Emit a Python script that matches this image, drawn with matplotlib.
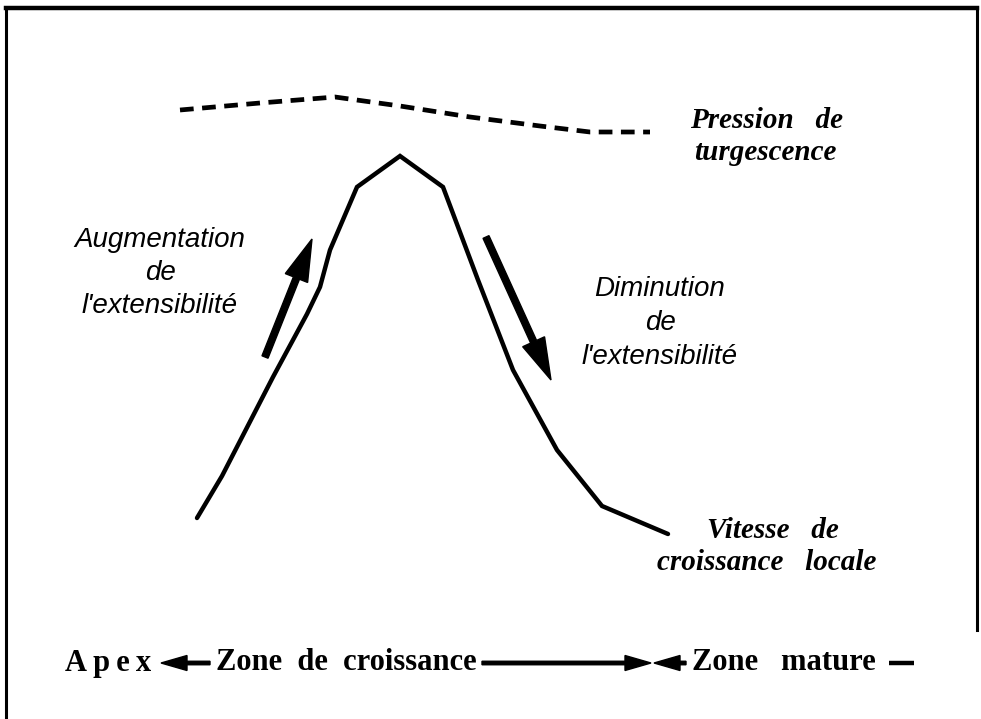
import matplotlib
matplotlib.use("Agg")
import matplotlib.pyplot as plt
from matplotlib.lines import Line2D

# ---- data (horizontal position along the root, value in image units; y grows downward) ----
growth_pos = [197, 222, 273, 307, 320, 330, 357, 400, 443, 478, 513, 557, 602, 668]
growth_val = [518, 476, 377, 314, 287, 250, 187, 156, 187, 280, 370, 450, 506, 534]

pressure_pos = [180, 260, 335, 400, 470, 540, 590, 650]
pressure_val = [110, 103, 97, 106, 117, 126, 132, 132]

label_aug = "Augmentation\nde\nl'extensibilité"
label_dim = "Diminution\nde\nl'extensibilité"
label_press = ["Pression   de", "turgescence"]
label_vit = ["Vitesse   de", "croissance   locale"]
zone_labels = ["A\u2009p\u2009e\u2009x", "Zone  de  croissance", "Zone   mature"]

W, H = 981, 719
fig = plt.figure(figsize=(W / 100, H / 100), dpi=100)
ax = fig.add_axes([0, 0, 1, 1])
ax.set_xlim(0, W)
ax.set_ylim(H, 0)
ax.axis("off")

# frame (left, top, right)
fig.add_artist(Line2D([6 / W, 6 / W], [0, 1 - 8 / H], transform=fig.transFigure, color="k", lw=2.2))
fig.add_artist(Line2D([6 / W, 977 / W], [1 - 8 / H, 1 - 8 / H], transform=fig.transFigure, color="k", lw=3.2))
fig.add_artist(Line2D([977 / W, 977 / W], [1 - 8 / H, 1 - 630 / H], transform=fig.transFigure, color="k", lw=2.2))

# growth curve
ax.plot(growth_pos, growth_val, color="k", lw=3.2, solid_joinstyle="miter", solid_capstyle="round")

# turgor pressure dashed line
ln, = ax.plot(pressure_pos, pressure_val, color="k", lw=3.4, solid_capstyle="butt")
ln.set_linestyle((0, (2.9, 1.8)))

# big arrows
ax.arrow(265, 357, 312 - 265, 239 - 357, width=6.5, head_width=24, head_length=42,
         length_includes_head=True, fc="k", ec="k")
ax.arrow(486, 237, 551 - 486, 380 - 237, width=6.5, head_width=24, head_length=42,
         length_includes_head=True, fc="k", ec="k")

sans_it = dict(family="Liberation Sans", style="italic", fontsize=20, color="k")
ax.text(160, 273, label_aug, ha="center", va="center", linespacing=1.35, **sans_it)
ax.text(660, 323, label_dim, ha="center", va="center", linespacing=1.38, **sans_it)

serif_bi = dict(family="Liberation Serif", style="italic", weight="bold", fontsize=21, color="k")
ax.text(690, 120, label_press[0], ha="left", va="center", **serif_bi)
ax.text(694, 153, label_press[1], ha="left", va="center", **serif_bi)
ax.text(707, 530, label_vit[0], ha="left", va="center", **serif_bi)
ax.text(657, 562, label_vit[1], ha="left", va="center", **serif_bi)

# bottom zone labels
serif_b = dict(family=["Liberation Serif", "DejaVu Serif"], weight="bold", fontsize=22, color="k")
yb = 663
ax.text(65, yb, zone_labels[0], ha="left", va="center", **serif_b)
ax.text(216, yb, zone_labels[1], ha="left", va="center", **serif_b)
ax.text(692, yb, zone_labels[2], ha="left", va="center", **serif_b)

ap = dict(width=3.5, head_width=15, head_length=26, length_includes_head=True, fc="k", ec="k")
ax.arrow(210, yb, 161 - 210, 0, **ap)
ax.arrow(482, yb, 651 - 482, 0, **ap)
ax.arrow(686, yb, 654 - 686, 0, **ap)
ax.plot([889, 914], [yb, yb], color="k", lw=3.2, solid_capstyle="butt")

fig.savefig("out.png", dpi=100)
